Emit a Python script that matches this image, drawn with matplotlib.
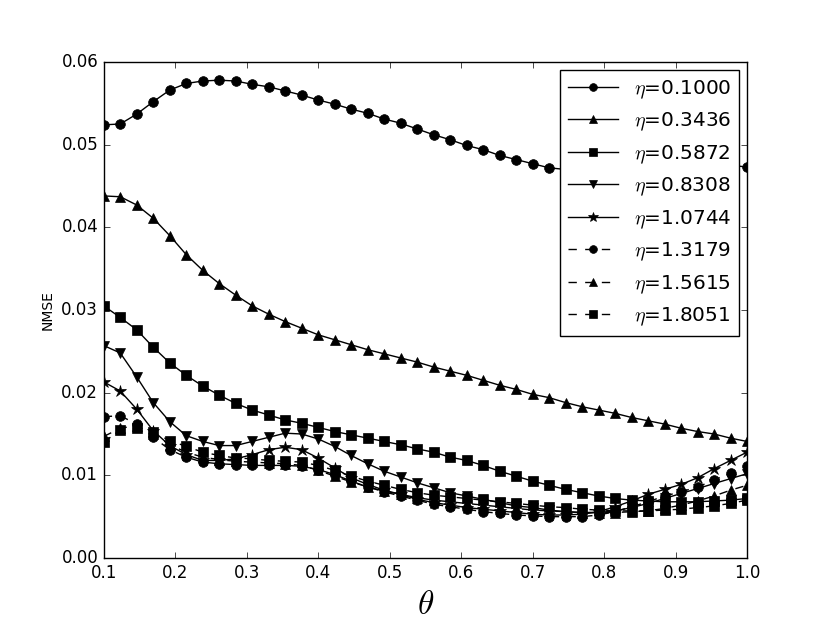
import numpy as np
import matplotlib
matplotlib.use("Agg")
import matplotlib.pyplot as plt

# =========================
# Veriler
# =========================
theta = np.linspace(0.1, 1.0, 40)

eta_etiketleri = ["0.1000", "0.3436", "0.5872", "0.8308",
                  "1.0744", "1.3179", "1.5615", "1.8051"]

nmse_0100 = [0.0524, 0.0525, 0.0537, 0.0552, 0.0566, 0.0574, 0.0577, 0.0578, 0.0577, 0.0573,
             0.0570, 0.0565, 0.0560, 0.0554, 0.0549, 0.0543, 0.0538, 0.0531, 0.0526, 0.0519,
             0.0512, 0.0506, 0.0499, 0.0494, 0.0487, 0.0482, 0.0477, 0.0472, 0.0470, 0.0468,
             0.0467, 0.0466, 0.0466, 0.0467, 0.0468, 0.0470, 0.0472, 0.0474, 0.0475, 0.0473]

nmse_0344 = [0.0438, 0.0437, 0.0427, 0.0411, 0.0390, 0.0367, 0.0348, 0.0332, 0.0318, 0.0305,
             0.0295, 0.0286, 0.0278, 0.0270, 0.0264, 0.0258, 0.0252, 0.0247, 0.0242, 0.0237,
             0.0231, 0.0226, 0.0221, 0.0215, 0.0209, 0.0204, 0.0198, 0.0194, 0.0188, 0.0183,
             0.0179, 0.0175, 0.0170, 0.0166, 0.0162, 0.0157, 0.0153, 0.0150, 0.0145, 0.0141]

nmse_0587 = [0.0305, 0.0291, 0.0276, 0.0255, 0.0236, 0.0221, 0.0208, 0.0197, 0.0187, 0.0179,
             0.0173, 0.0167, 0.0163, 0.0158, 0.0153, 0.0149, 0.0145, 0.0141, 0.0137, 0.0132,
             0.0128, 0.0122, 0.0118, 0.0112, 0.0105, 0.0099, 0.0093, 0.0088, 0.0083, 0.0079,
             0.0075, 0.0072, 0.0070, 0.0069, 0.0068, 0.0068, 0.0068, 0.0069, 0.0070, 0.0072]

nmse_0831 = [0.0257, 0.0248, 0.0219, 0.0188, 0.0165, 0.0148, 0.0141, 0.0136, 0.0136, 0.0141,
             0.0146, 0.0151, 0.0150, 0.0144, 0.0135, 0.0124, 0.0114, 0.0105, 0.0098, 0.0091,
             0.0085, 0.0079, 0.0075, 0.0071, 0.0067, 0.0063, 0.0061, 0.0058, 0.0056, 0.0055,
             0.0055, 0.0057, 0.0061, 0.0066, 0.0072, 0.0078, 0.0084, 0.0090, 0.0096, 0.0102]

nmse_1074 = [0.0213, 0.0202, 0.0180, 0.0154, 0.0136, 0.0125, 0.0118, 0.0118, 0.0120, 0.0125,
             0.0131, 0.0134, 0.0131, 0.0121, 0.0109, 0.0097, 0.0089, 0.0082, 0.0077, 0.0071,
             0.0067, 0.0064, 0.0061, 0.0059, 0.0057, 0.0055, 0.0053, 0.0052, 0.0052, 0.0053,
             0.0056, 0.0062, 0.0069, 0.0077, 0.0083, 0.0089, 0.0097, 0.0108, 0.0118, 0.0128]

nmse_1318 = [0.0171, 0.0172, 0.0162, 0.0146, 0.0131, 0.0122, 0.0116, 0.0114, 0.0113, 0.0112,
             0.0112, 0.0112, 0.0111, 0.0107, 0.0101, 0.0093, 0.0086, 0.0080, 0.0075, 0.0070,
             0.0065, 0.0062, 0.0059, 0.0056, 0.0054, 0.0052, 0.0051, 0.0050, 0.0050, 0.0050,
             0.0052, 0.0056, 0.0062, 0.0068, 0.0075, 0.0080, 0.0086, 0.0094, 0.0103, 0.0111]

nmse_1562 = [0.0147, 0.0157, 0.0160, 0.0150, 0.0137, 0.0128, 0.0122, 0.0119, 0.0117, 0.0116,
             0.0115, 0.0114, 0.0112, 0.0106, 0.0099, 0.0092, 0.0086, 0.0081, 0.0077, 0.0073,
             0.0070, 0.0068, 0.0066, 0.0064, 0.0062, 0.0060, 0.0058, 0.0057, 0.0056, 0.0055,
             0.0055, 0.0055, 0.0056, 0.0057, 0.0060, 0.0064, 0.0069, 0.0075, 0.0082, 0.0088]

nmse_1805 = [0.0140, 0.0155, 0.0157, 0.0152, 0.0142, 0.0135, 0.0128, 0.0124, 0.0121, 0.0120,
             0.0118, 0.0117, 0.0116, 0.0112, 0.0106, 0.0099, 0.0093, 0.0088, 0.0083, 0.0079,
             0.0076, 0.0074, 0.0072, 0.0070, 0.0068, 0.0066, 0.0064, 0.0062, 0.0061, 0.0059,
             0.0058, 0.0057, 0.0057, 0.0057, 0.0058, 0.0059, 0.0061, 0.0063, 0.0066, 0.0070]

seriler = [nmse_0100, nmse_0344, nmse_0587, nmse_0831,
           nmse_1074, nmse_1318, nmse_1562, nmse_1805]

# =========================
# Çizim (eski matplotlib görünümü)
# =========================
plt.style.use("classic")

stiller = [("-", "o"), ("-", "^"), ("-", "s"), ("-", "v"),
           ("-", "*"), ("--", "o"), ("--", "^"), ("--", "s")]

fig = plt.figure(figsize=(8.3, 6.2), dpi=100, facecolor="white")
ax = fig.add_subplot(111)

for veri, etiket, (ls, mk) in zip(seriler, eta_etiketleri, stiller):
    ms = 9 if mk == "*" else 7
    ax.plot(theta, veri, color="k", linestyle=ls, marker=mk, markersize=ms,
            markerfacecolor="k", markeredgecolor="k",
            label=r"$\eta$=" + etiket)

ax.set_xlim(0.1, 1.0)
ax.set_ylim(0.0, 0.06)
ax.set_xticks(np.arange(0.1, 1.01, 0.1))
ax.set_yticks(np.arange(0.0, 0.061, 0.01))
ax.yaxis.set_major_formatter(matplotlib.ticker.FormatStrFormatter("%.2f"))

ax.set_xlabel(r"$\theta$", fontsize=24)
ax.set_ylabel("NMSE", fontsize=10)

ax.legend(loc="upper right", numpoints=1, fontsize=14.4, markerscale=0.8,
          handlelength=2.5, borderaxespad=0.4)

fig.savefig("out.png", dpi=100, facecolor="white")
